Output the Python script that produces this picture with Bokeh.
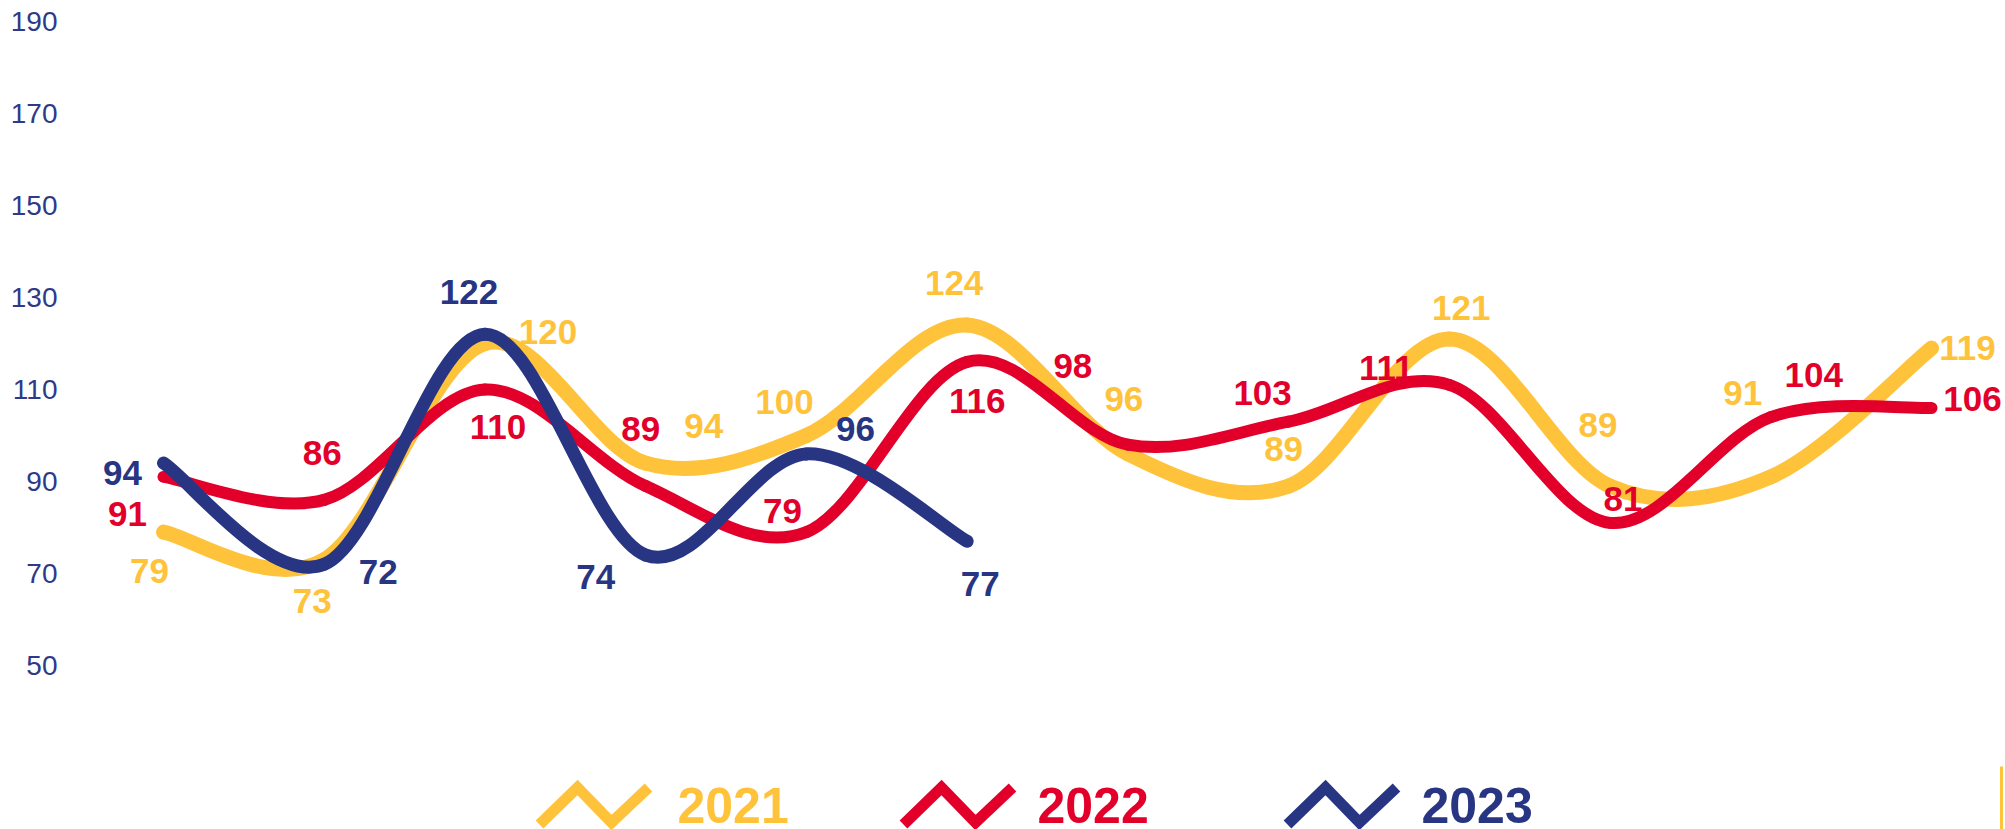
import numpy as np
from bokeh.plotting import figure
from bokeh.models import ColumnDataSource, Range1d, FixedTicker
from bokeh.core.properties import value
from bokeh.embed import file_html
from bokeh.resources import INLINE

# ---------------- data ----------------
months = ["Jan", "Feb", "Mar", "Apr", "May", "Jun",
          "Jul", "Aug", "Sep", "Oct", "Nov", "Dec"]
years = ["2021", "2022", "2023"]
v2021 = [79, 73, 120, 94, 100, 124, 96, 89, 121, 89, 91, 119]
v2022 = [91, 86, 110, 89, 79, 116, 98, 103, 111, 81, 104, 106]
v2023 = [94, 72, 122, 74, 96, 77]
y_ticks = [50, 70, 90, 110, 130, 150, 170, 190]

# label offsets in screen pixels (dx right, dy down)
lab2021_dx = [-14, -12, 63, 58, -22, -13, -4, -5, 12, -12, -28, 36]
lab2021_dy = [39, 41, -12, -37, -34, -42, -55, -37, -31, -61, -84, 0]
lab2022_dx = [-36, -2, 13, -5, -24, 10, -55, -26, -63, 13, 43, 41]
lab2022_dy = [37, -47, 37, -57, -21, 39, -79, -29, -17, -24, -42, -9]
lab2023_dx = [-41, 54, -16, -50, 49, 13]
lab2023_dy = [10, 8, -42, 22, -25, 43]

# ---------------- styles ----------------
YELLOW = "#FFC33B"
RED = "#E2002B"
NAVY = "#283583"
AXIS_COL = "#2E3A87"
FONT = "Liberation Sans"

series = [
    ("2021", v2021, lab2021_dx, lab2021_dy, YELLOW, 15),
    ("2022", v2022, lab2022_dx, lab2022_dy, RED, 12),
    ("2023", v2023, lab2023_dx, lab2023_dy, NAVY, 13),
]


def catmull_rom(xs, ys):
    xs = np.asarray(xs, float)
    ys = np.asarray(ys, float)
    n = len(xs)
    xp = np.concatenate([[xs[0]], xs, [xs[-1]]])
    yp = np.concatenate([[ys[0]], ys, [ys[-1]]])
    cx0 = xs[:-1] + (xp[2:n + 1] - xp[0:n - 1]) / 6.0
    cy0 = ys[:-1] + (yp[2:n + 1] - yp[0:n - 1]) / 6.0
    cx1 = xs[1:] - (xp[3:n + 2] - xp[1:n]) / 6.0
    cy1 = ys[1:] - (yp[3:n + 2] - yp[1:n]) / 6.0
    return dict(x0=xs[:-1], y0=ys[:-1], x1=xs[1:], y1=ys[1:],
                cx0=cx0, cy0=cy0, cx1=cx1, cy1=cy1)


# ---------------- chart ----------------
W = 2005
H = 829
LEFT = 70
px_per_idx = (1931 - 163) / 11.0
px_per_unit = 4.6
x_start = -(163 - LEFT) / px_per_idx
x_end = x_start + (W - LEFT) / px_per_idx
y_end = 190 + 21 / px_per_unit
y_start = y_end - H / px_per_unit

p = figure(width=W, height=H, output_backend="svg", toolbar_location=None,
           x_range=Range1d(x_start, x_end), y_range=Range1d(y_start, y_end),
           x_axis_location=None, y_axis_location="left",
           min_border_left=LEFT, min_border_right=0, min_border_top=0,
           min_border_bottom=0)
p.background_fill_color = "white"
p.border_fill_color = "white"
p.outline_line_color = None
p.xgrid.visible = False
p.ygrid.visible = False

# pixel-unit ranges for the legend strip (screen-like coordinates)
p.extra_x_ranges = {"legx": Range1d(LEFT, W)}
p.extra_y_ranges = {"legy": Range1d(H, 0)}

ax = p.yaxis[0]
ax.ticker = FixedTicker(ticks=y_ticks)
ax.axis_line_color = None
ax.major_tick_line_color = None
ax.minor_tick_line_color = None
ax.major_tick_out = 0
ax.major_tick_in = 0
ax.major_label_standoff = 13
ax.major_label_text_font = FONT
ax.major_label_text_font_size = "28px"
ax.major_label_text_color = AXIS_COL

for name, vals, dx, dy, col, lw in series:
    idx = list(range(len(vals)))
    src = ColumnDataSource(catmull_rom(idx, vals))
    p.bezier(x0="x0", y0="y0", x1="x1", y1="y1", cx0="cx0", cy0="cy0",
             cx1="cx1", cy1="cy1", source=src, line_color=col,
             line_width=lw, line_cap="round")

for name, vals, dx, dy, col, lw in series:
    idx = list(range(len(vals)))
    lsrc = ColumnDataSource(dict(x=idx, y=vals, t=[str(v) for v in vals],
                                 dx=dx, dy=dy))
    p.text(x="x", y="y", text="t", x_offset="dx", y_offset="dy",
           source=lsrc, text_color=col, text_font=value(FONT),
           text_font_style="bold", text_font_size="35px",
           text_align="center", text_baseline="middle")

# ---------------- legend (zig-zag keys + year labels) ----------------
zig_dx = [0, 38, 72, 109]
zig_y = [824, 787, 822, 787]
leg_x0 = [539, 903, 1287]
leg_tx = [677, 1037, 1421]
for (name, vals, dx, dy, col, lw), x0, tx in zip(series, leg_x0, leg_tx):
    p.line([x0 + d for d in zig_dx], zig_y, line_color=col, line_width=11,
           line_join="miter", line_cap="butt",
           x_range_name="legx", y_range_name="legy")
    p.text(x=[tx], y=[805], text=[name], text_color=col,
           text_font=value(FONT), text_font_style="bold",
           text_font_size="50px", text_align="left",
           text_baseline="alphabetic",
           x_range_name="legx", y_range_name="legy")

p.segment(x0=[2001], y0=[766], x1=[2001], y1=[829], line_color=YELLOW,
          line_width=3, x_range_name="legx", y_range_name="legy")

open("out.html", "w").write(file_html(p, INLINE))
